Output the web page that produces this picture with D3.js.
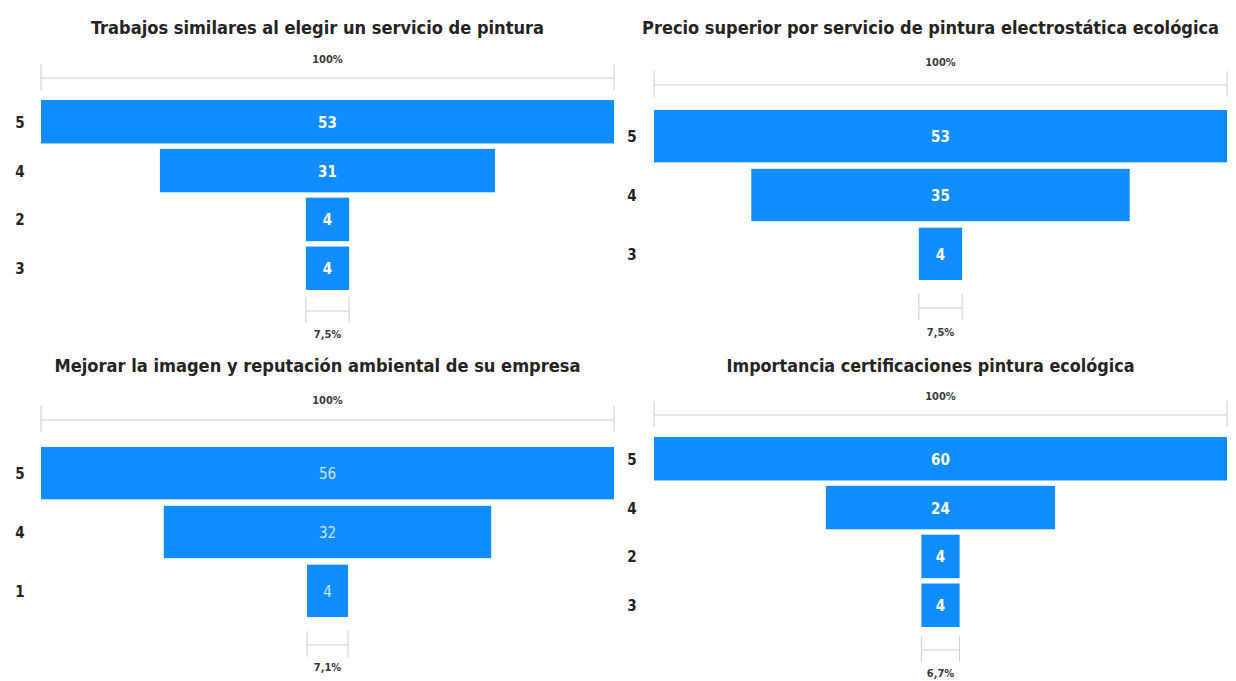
<!DOCTYPE html>
<html>
<head>
<meta charset="utf-8">
<script src="https://cdn.jsdelivr.net/npm/d3@7"></script>
<style>
  html, body { margin: 0; padding: 0; background: #ffffff; }
  svg { display: block; }
</style>
</head>
<body>
<div id="chart"></div>
<script>
// Survey answers (rating 1-5) shown as four funnels
const titles = [
  "Trabajos similares al elegir un servicio de pintura",
  "Precio superior por servicio de pintura electrostática ecológica",
  "Mejorar la imagen y reputación ambiental de su empresa",
  "Importancia certificaciones pintura ecológica"
];
const categories = [
  ["5", "4", "2", "3"],
  ["5", "4", "3"],
  ["5", "4", "1"],
  ["5", "4", "2", "3"]
];
const values = [
  [53, 31, 4, 4],
  [53, 35, 4],
  [56, 32, 4],
  [60, 24, 4, 4]
];
const topLabels = ["100%", "100%", "100%", "100%"];
const bottomLabels = ["7,5%", "7,5%", "7,1%", "6,7%"];

// Panel geometry (pixels)
const layout = [
  { left: 41,  right: 614,  catX: 20,  titleY: 28,  titleW: 453, topY: 59,  lineY: 78,  barTop: 100, barBottom: 290, brY: 311, brLabelY: 334, labelColor: "#ffffff", labelWeight: 700 },
  { left: 654, right: 1227, catX: 632, titleY: 28,  titleW: 577, topY: 62,  lineY: 85,  barTop: 110, barBottom: 280, brY: 308, brLabelY: 332, labelColor: "#ffffff", labelWeight: 700 },
  { left: 41,  right: 614,  catX: 20,  titleY: 366, titleW: 526, topY: 400, lineY: 420, barTop: 447, barBottom: 617, brY: 645, brLabelY: 667, labelColor: "#cfe3ff", labelWeight: 400 },
  { left: 654, right: 1227, catX: 632, titleY: 366, titleW: 408, topY: 396, lineY: 415, barTop: 437, barBottom: 627, brY: 650, brLabelY: 673, labelColor: "#ffffff", labelWeight: 700 }
];

const W = 1236, H = 681;
const FONT = "'DejaVu Sans Condensed', 'Liberation Sans Narrow', 'Open Sans', sans-serif";
const BAR = "#118dff";
const RULE = "#cfcdcb";

const svg = d3.select("#chart").append("svg")
  .attr("width", W).attr("height", H)
  .style("font-family", FONT);

titles.forEach((title, i) => {
  const L = layout[i];
  const vals = values[i];
  const cats = categories[i];
  const maxV = d3.max(vals);
  const cx = (L.left + L.right) / 2;

  // Width scale: largest stage fills the plot
  const w = d3.scaleLinear().domain([0, maxV]).range([0, L.right - L.left]);
  const y = d3.scaleBand().domain(cats.map((c, k) => k)).range([L.barTop, L.barBottom]).paddingInner(0.11).paddingOuter(0);

  const g = svg.append("g");

  g.append("text")
    .attr("x", cx - 10).attr("y", L.titleY)
    .attr("text-anchor", "middle").attr("dominant-baseline", "central")
    .attr("font-size", 17).attr("font-weight", 700).attr("fill", "#252423")
    .attr("textLength", L.titleW).attr("lengthAdjust", "spacingAndGlyphs")
    .text(title);

  // Brackets spanning a stage's width
  const drawBracket = (yy, halfW) => {
    const x0 = cx - halfW, x1 = cx + halfW;
    g.append("line").attr("x1", x0).attr("x2", x1).attr("y1", yy).attr("y2", yy)
      .attr("stroke", RULE).attr("stroke-width", 1);
    [x0, x1].forEach(xx => g.append("line")
      .attr("x1", xx).attr("x2", xx).attr("y1", yy - 14).attr("y2", yy + 12)
      .attr("stroke", RULE).attr("stroke-width", 1));
  };
  drawBracket(L.lineY, w(vals[0]) / 2);
  g.append("text")
    .attr("x", cx).attr("y", L.topY)
    .attr("text-anchor", "middle").attr("dominant-baseline", "central")
    .attr("font-size", 11).attr("font-weight", 700).attr("fill", "#3b3a39")
    .text(topLabels[i]);

  // Stages
  const rows = g.selectAll("g.stage").data(vals).join("g").attr("class", "stage");
  rows.append("rect")
    .attr("x", d => cx - w(d) / 2)
    .attr("y", (d, k) => y(k))
    .attr("width", d => w(d))
    .attr("height", y.bandwidth())
    .attr("fill", BAR);
  rows.append("text")
    .attr("x", cx)
    .attr("y", (d, k) => y(k) + y.bandwidth() / 2 + 1)
    .attr("text-anchor", "middle").attr("dominant-baseline", "central")
    .attr("font-size", 15).attr("font-weight", L.labelWeight).attr("fill", L.labelColor)
    .text(d => d);
  rows.append("text")
    .attr("x", L.catX)
    .attr("y", (d, k) => y(k) + y.bandwidth() / 2 + 1)
    .attr("text-anchor", "middle").attr("dominant-baseline", "central")
    .attr("font-size", 15).attr("font-weight", 700).attr("fill", "#252423")
    .text((d, k) => cats[k]);

  drawBracket(L.brY, w(vals[vals.length - 1]) / 2);
  g.append("text")
    .attr("x", cx).attr("y", L.brLabelY)
    .attr("text-anchor", "middle").attr("dominant-baseline", "central")
    .attr("font-size", 11).attr("font-weight", 700).attr("fill", "#3b3a39")
    .text(bottomLabels[i]);
});
</script>
</body>
</html>
